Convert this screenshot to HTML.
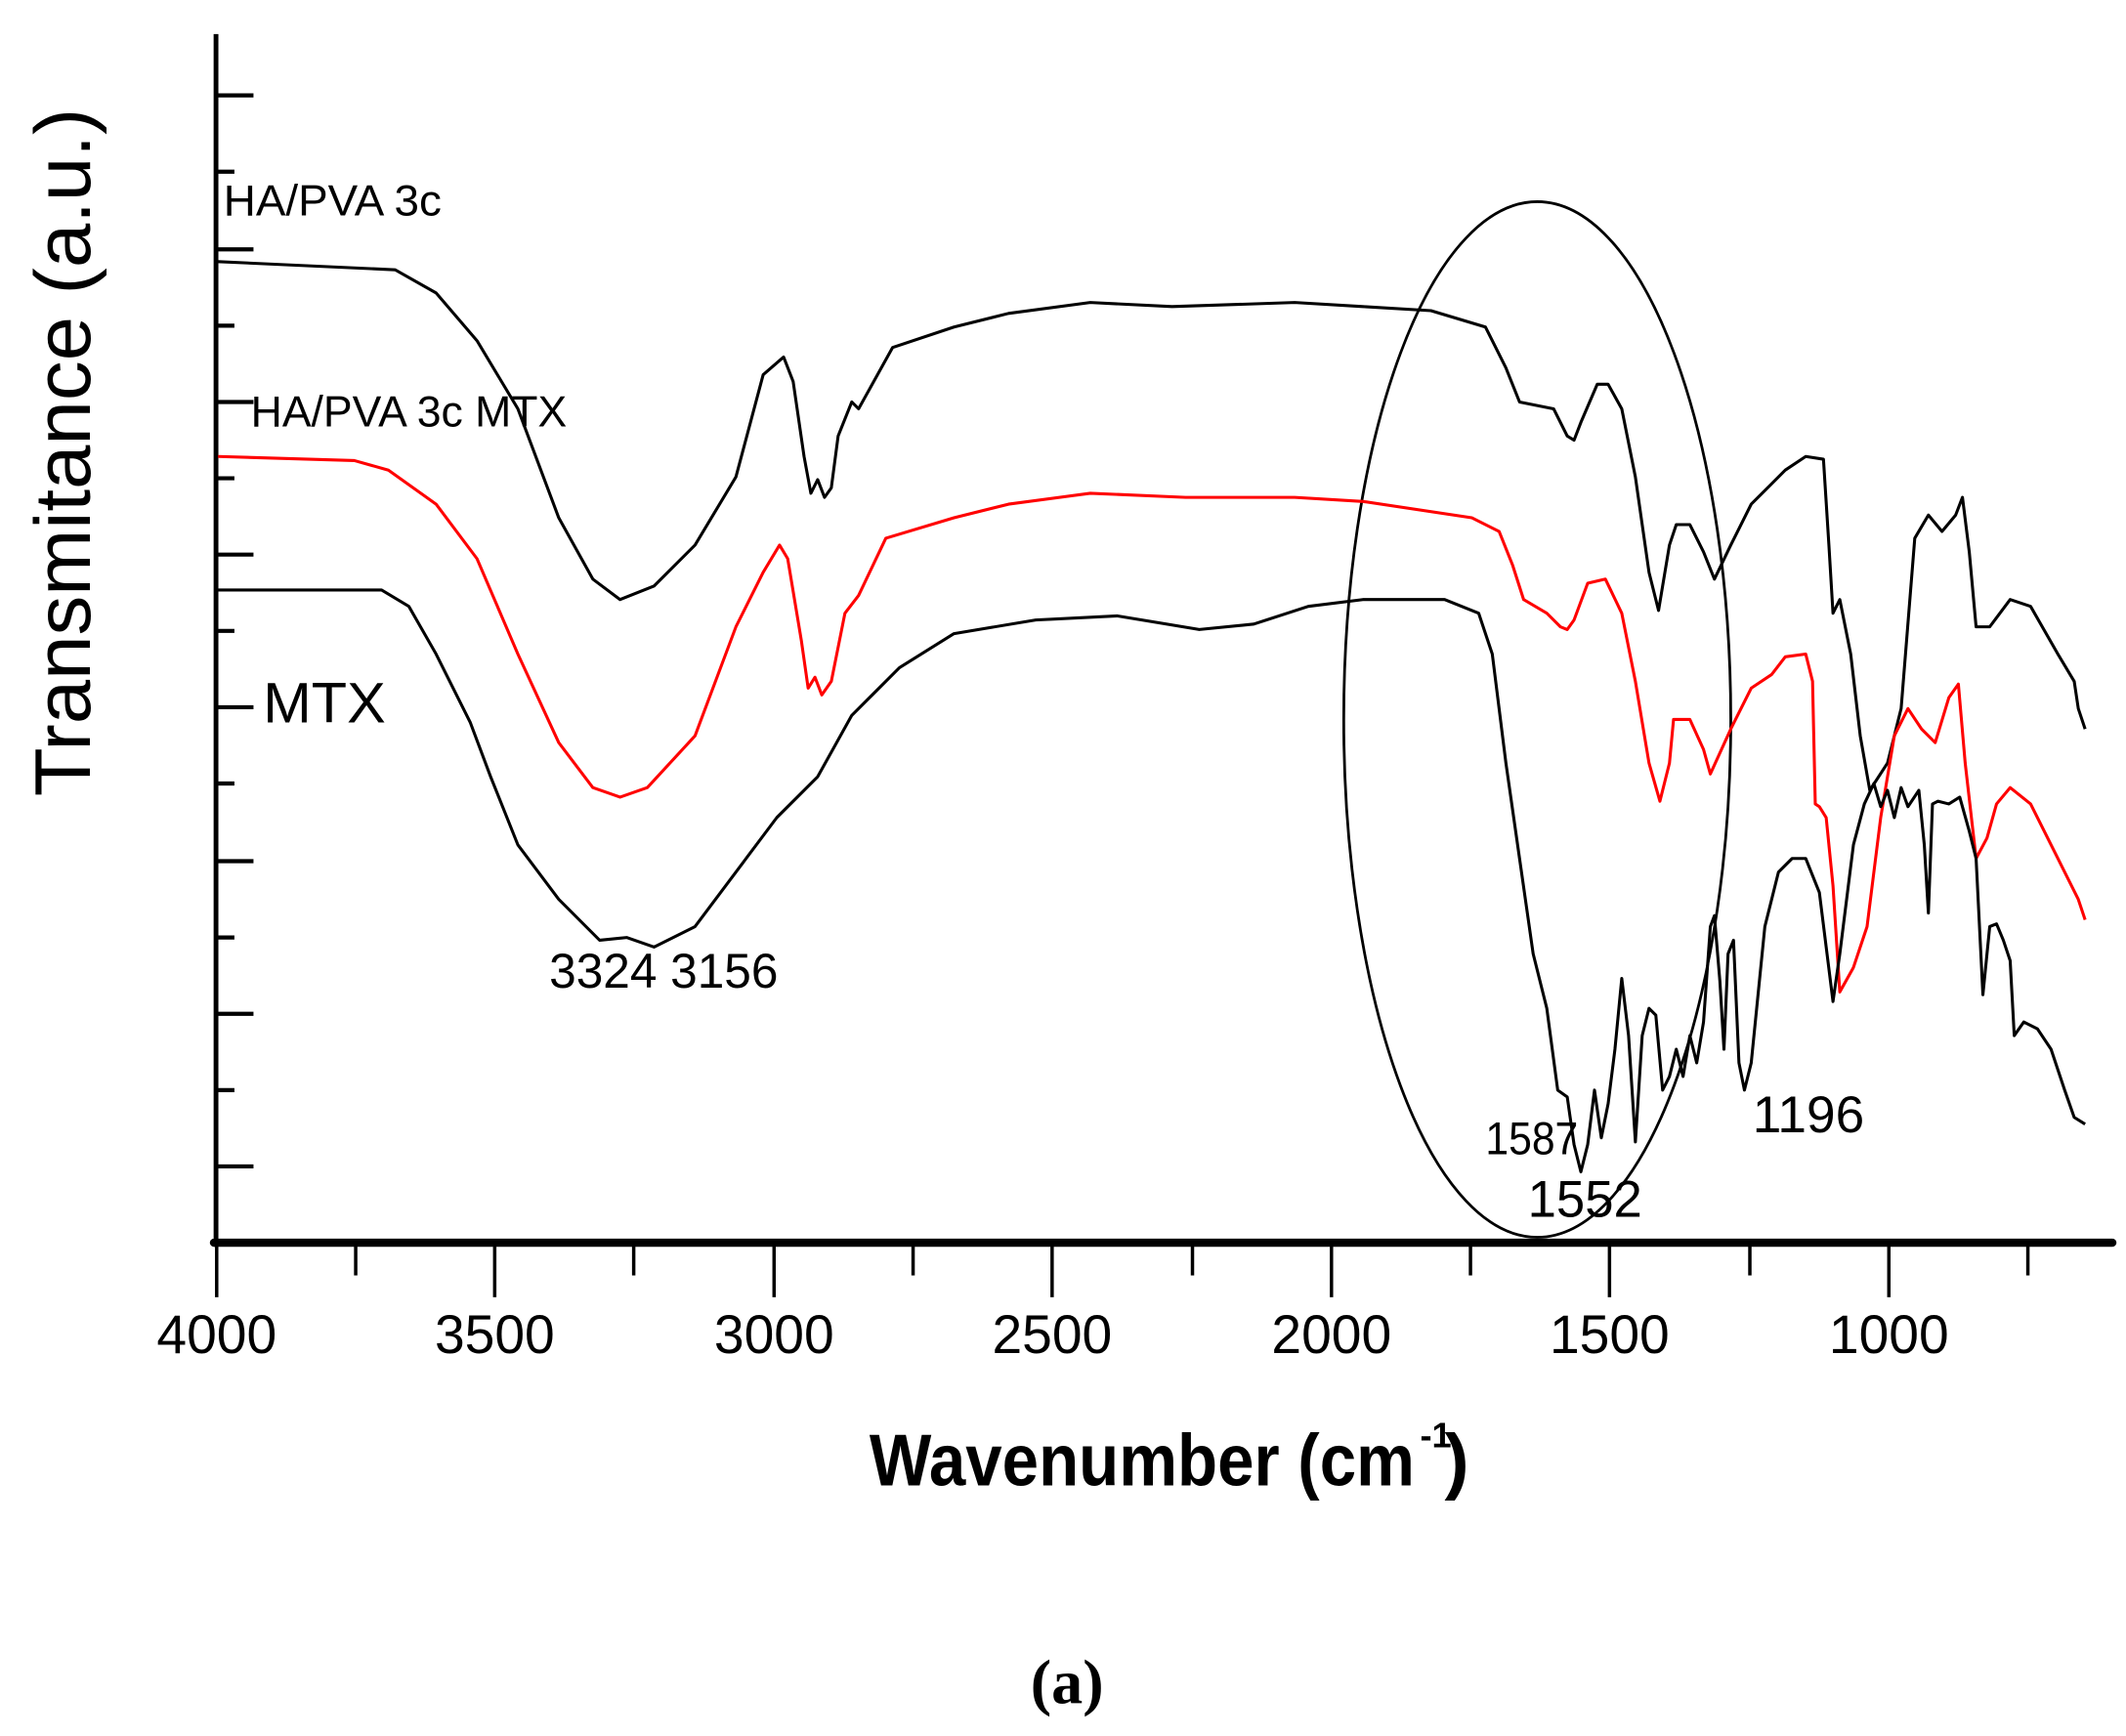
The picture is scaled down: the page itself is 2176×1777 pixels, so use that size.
<!DOCTYPE html>
<html><head><meta charset="utf-8"><style>html,body{margin:0;padding:0;background:#fff}svg{display:block}</style></head>
<body>
<svg width="2176" height="1777" viewBox="0 0 1560 1274" preserveAspectRatio="none" xmlns="http://www.w3.org/2000/svg" font-family="Liberation Sans, Arial, sans-serif">
<rect width="1560" height="1274" fill="#fff"/>
<!-- axes -->
<line x1="158.5" y1="25" x2="158.5" y2="915" stroke="#000" stroke-width="3.5"/>
<line x1="157" y1="912" x2="1550" y2="912" stroke="#000" stroke-width="6" stroke-linecap="round"/>
<g stroke="#000" stroke-width="3">
<line x1="158" y1="70" x2="186" y2="70"/><line x1="158" y1="126" x2="172" y2="126"/>
<line x1="158" y1="183" x2="186" y2="183"/><line x1="158" y1="239" x2="172" y2="239"/>
<line x1="158" y1="295" x2="186" y2="295"/><line x1="158" y1="351" x2="172" y2="351"/>
<line x1="158" y1="407" x2="186" y2="407"/><line x1="158" y1="463" x2="172" y2="463"/>
<line x1="158" y1="519" x2="186" y2="519"/><line x1="158" y1="575" x2="172" y2="575"/>
<line x1="158" y1="632" x2="186" y2="632"/><line x1="158" y1="688" x2="172" y2="688"/>
<line x1="158" y1="744" x2="186" y2="744"/><line x1="158" y1="800" x2="172" y2="800"/>
<line x1="158" y1="856" x2="186" y2="856"/>
</g>
<g stroke="#000" stroke-width="2.5">
<line x1="159" y1="912" x2="159" y2="952"/><line x1="261" y1="912" x2="261" y2="936"/>
<line x1="363" y1="912" x2="363" y2="952"/><line x1="465" y1="912" x2="465" y2="936"/>
<line x1="568" y1="912" x2="568" y2="952"/><line x1="670" y1="912" x2="670" y2="936"/>
<line x1="772" y1="912" x2="772" y2="952"/><line x1="875" y1="912" x2="875" y2="936"/>
<line x1="977" y1="912" x2="977" y2="952"/><line x1="1079" y1="912" x2="1079" y2="936"/>
<line x1="1181" y1="912" x2="1181" y2="952"/><line x1="1284" y1="912" x2="1284" y2="936"/>
<line x1="1386" y1="912" x2="1386" y2="952"/><line x1="1488" y1="912" x2="1488" y2="936"/>
</g>
<g font-size="40" text-anchor="middle" fill="#000">
<text x="159" y="993" textLength="88" lengthAdjust="spacingAndGlyphs">4000</text>
<text x="363" y="993" textLength="88" lengthAdjust="spacingAndGlyphs">3500</text>
<text x="568" y="993" textLength="88" lengthAdjust="spacingAndGlyphs">3000</text>
<text x="772" y="993" textLength="88" lengthAdjust="spacingAndGlyphs">2500</text>
<text x="977" y="993" textLength="88" lengthAdjust="spacingAndGlyphs">2000</text>
<text x="1181" y="993" textLength="88" lengthAdjust="spacingAndGlyphs">1500</text>
<text x="1386" y="993" textLength="88" lengthAdjust="spacingAndGlyphs">1000</text>
</g>
<text x="638" y="1090" font-size="54" font-weight="bold" textLength="400" lengthAdjust="spacingAndGlyphs">Wavenumber (cm</text>
<text x="1042" y="1062" font-size="26" font-weight="bold">-1</text>
<text x="1060" y="1090" font-size="54" font-weight="bold">)</text>
<text transform="translate(66,332) rotate(-90)" x="0" y="0" font-size="58" text-anchor="middle" textLength="505" lengthAdjust="spacingAndGlyphs">Transmitance (a.u.)</text>
<text x="783" y="1250" font-size="46" font-weight="bold" font-family="Liberation Serif, serif" text-anchor="middle">(a)</text>
<!-- labels -->
<g fill="#000">
<text x="164" y="158" font-size="32" textLength="160" lengthAdjust="spacingAndGlyphs">HA/PVA 3c</text>
<text x="184" y="313" font-size="32" textLength="232" lengthAdjust="spacingAndGlyphs">HA/PVA 3c MTX</text>
<text x="193" y="530" font-size="42" textLength="90" lengthAdjust="spacingAndGlyphs">MTX</text>
<text x="403" y="725" font-size="36" textLength="168" lengthAdjust="spacingAndGlyphs">3324 3156</text>
<text x="1090" y="847" font-size="34" textLength="68" lengthAdjust="spacingAndGlyphs">1587</text>
<text x="1121" y="893" font-size="38" textLength="84" lengthAdjust="spacingAndGlyphs">1552</text>
<text x="1286" y="831" font-size="38" textLength="82" lengthAdjust="spacingAndGlyphs">1196</text>
</g>
<ellipse cx="1128" cy="528" rx="142" ry="380" fill="none" stroke="#000" stroke-width="2"/>
<g fill="none" stroke-width="2.2" stroke-linejoin="round">
<polyline stroke="#000" points="160,192 290,198 320,215 350,250 380,300 410,380 435,425 455,440 480,430 510,400 540,350 560,275 575,262 582,280 590,335 595,362 600,352 605,365 610,358 615,320 625,295 630,300 655,255 700,240 740,230 800,222 860,225 950,222 1000,225 1050,228 1090,240 1105,270 1115,295 1140,300 1150,320 1155,323 1160,310 1172,282 1180,282 1190,300 1200,350 1210,420 1217,448 1225,400 1230,385 1240,385 1250,405 1258,425 1270,400 1285,370 1300,355 1310,345 1325,335 1338,337 1342,400 1345,450 1350,440 1358,480 1365,540 1372,580 1385,560 1395,520 1405,395 1415,378 1425,390 1435,378 1440,365 1445,405 1450,460 1460,460 1475,440 1490,445 1510,480 1522,500 1525,520 1530,535"/>
<polyline stroke="#f00" points="160,335 260,338 285,345 320,370 350,410 380,480 410,545 435,578 455,585 475,578 510,540 540,460 560,420 572,400 578,410 588,470 593,505 598,497 603,510 610,500 620,450 630,437 650,395 700,380 740,370 800,362 870,365 950,365 1000,368 1080,380 1100,390 1110,415 1118,440 1135,450 1145,460 1150,462 1155,455 1165,428 1178,425 1190,450 1200,500 1210,560 1218,588 1225,560 1228,528 1240,528 1250,550 1255,568 1270,535 1285,505 1300,495 1310,482 1325,480 1330,500 1332,590 1335,592 1340,600 1345,650 1350,728 1360,710 1370,680 1380,600 1390,540 1400,520 1410,535 1420,545 1430,512 1437,502 1442,560 1450,630 1458,615 1465,590 1475,578 1490,590 1510,630 1525,660 1530,675"/>
<polyline stroke="#000" points="160,433 280,433 300,445 320,480 345,530 360,570 380,620 410,660 440,690 460,688 480,695 510,680 540,640 570,600 600,570 625,525 640,510 660,490 700,465 760,455 820,452 880,462 920,458 960,445 1000,440 1060,440 1085,450 1095,480 1105,560 1115,630 1125,700 1135,740 1143,800 1150,805 1155,840 1160,860 1165,840 1170,800 1175,835 1180,810 1185,770 1190,718 1195,760 1200,838 1205,760 1210,740 1215,745 1220,800 1225,790 1230,770 1235,790 1240,760 1245,780 1250,750 1255,680 1258,672 1262,720 1265,770 1268,700 1272,690 1276,780 1280,800 1285,780 1295,680 1305,640 1315,630 1325,630 1335,655 1345,735 1350,700 1360,620 1368,590 1375,575 1380,592 1385,580 1390,600 1395,578 1400,592 1408,580 1412,620 1415,670 1418,590 1422,588 1430,590 1438,585 1445,610 1450,630 1455,730 1460,680 1465,678 1470,690 1475,705 1478,760 1485,750 1495,755 1505,770 1515,800 1522,820 1530,825"/>
</g>
</svg>
</body></html>
